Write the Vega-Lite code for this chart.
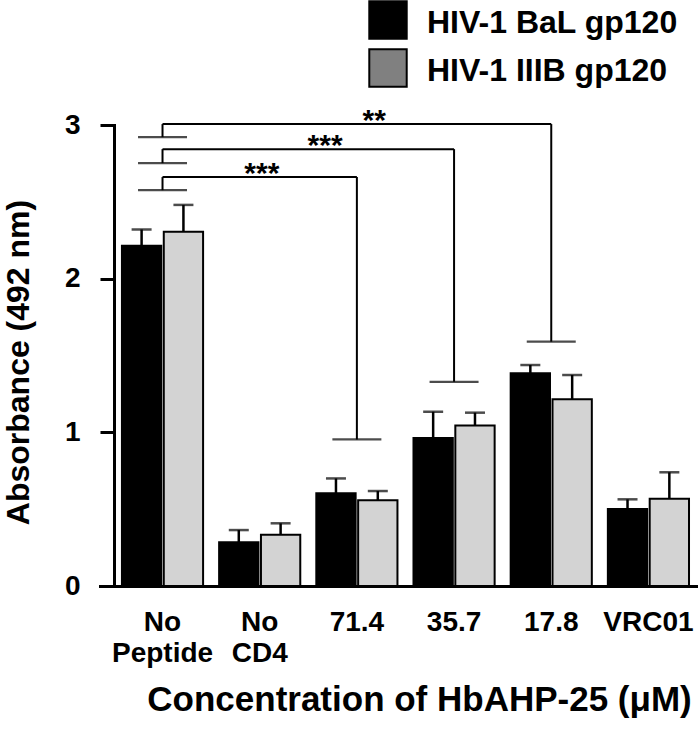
{
  "$schema": "https://vega.github.io/schema/vega-lite/v6.json",
  "width": 597,
  "height": 461,
  "autosize": "none",
  "padding": {"left": 100, "top": 125, "right": 1, "bottom": 149},
  "background": "white",
  "config": {
    "view": {"stroke": null},
    "font": "Liberation Sans",
    "axis": {"grid": false}
  },
  "resolve": {"scale": {"fill": "independent"}},
  "datasets": {
    "bars": [
      {"group": "No Peptide", "series": "HIV-1 BaL gp120", "mean": 2.214, "upper": 2.32},
      {"group": "No Peptide", "series": "HIV-1 IIIB gp120", "mean": 2.305, "upper": 2.48},
      {"group": "No CD4", "series": "HIV-1 BaL gp120", "mean": 0.284, "upper": 0.364},
      {"group": "No CD4", "series": "HIV-1 IIIB gp120", "mean": 0.334, "upper": 0.408},
      {"group": "71.4", "series": "HIV-1 BaL gp120", "mean": 0.603, "upper": 0.70},
      {"group": "71.4", "series": "HIV-1 IIIB gp120", "mean": 0.558, "upper": 0.618},
      {"group": "35.7", "series": "HIV-1 BaL gp120", "mean": 0.963, "upper": 1.134},
      {"group": "35.7", "series": "HIV-1 IIIB gp120", "mean": 1.045, "upper": 1.128},
      {"group": "17.8", "series": "HIV-1 BaL gp120", "mean": 1.384, "upper": 1.438},
      {"group": "17.8", "series": "HIV-1 IIIB gp120", "mean": 1.215, "upper": 1.373},
      {"group": "VRC01", "series": "HIV-1 BaL gp120", "mean": 0.501, "upper": 0.564},
      {"group": "VRC01", "series": "HIV-1 IIIB gp120", "mean": 0.568, "upper": 0.74}
    ],
    "brackets": [
      {"origin": "No Peptide", "target": "71.4", "left": 2.576, "level": 2.661, "cap": 0.954, "stars": "***"},
      {"origin": "No Peptide", "target": "35.7", "left": 2.752, "level": 2.843, "cap": 1.329, "stars": "***"},
      {"origin": "No Peptide", "target": "17.8", "left": 2.921, "level": 3.006, "cap": 1.59, "stars": "**"}
    ]
  },
  "layer": [
    {
      "data": {"name": "bars"},
      "mark": {"type": "bar", "stroke": "black", "strokeWidth": 2},
      "encoding": {
        "x": {
          "field": "group", "type": "nominal", "sort": null,
          "scale": {"domain": ["No Peptide", "No CD4", "71.4", "35.7", "17.8", "VRC01"], "paddingInner": 0.165, "paddingOuter": 0.154, "align": 0.733},
          "axis": {
            "ticks": false, "domainWidth": 3, "domainColor": "black", "domainCap": "square",
            "labelAngle": 0, "labelFont": "Liberation Sans", "labelFontSize": 28, "labelFontWeight": "bold", "labelColor": "black",
            "labelPadding": 22, "labelLineHeight": 31, "labelBaseline": "top",
            "labelExpr": "datum.label == 'No Peptide' ? ['No', 'Peptide'] : datum.label == 'No CD4' ? ['No', 'CD4'] : datum.label",
            "title": "Concentration of HbAHP-25 (μM)", "titleFont": "Liberation Sans", "titleFontSize": 35, "titleFontWeight": "bold", "titleColor": "black",
            "titleX": 319, "titleY": 96, "titleBaseline": "top", "titleAlign": "center", "titleAnchor": null
          }
        },
        "xOffset": {"field": "series", "type": "nominal", "scale": {"paddingInner": 0.06, "paddingOuter": 0}},
        "y": {
          "field": "mean", "type": "quantitative",
          "scale": {"domain": [0, 3], "nice": false, "zero": true},
          "axis": {
            "values": [0, 1, 2, 3], "format": "d", "offset": -14, "tickSize": 14, "tickWidth": 3, "tickColor": "black",
            "domainWidth": 3, "domainColor": "black", "domainCap": "square",
            "labelFont": "Liberation Sans", "labelFontSize": 28, "labelFontWeight": "bold", "labelColor": "black",
            "labelPadding": 20, "labelFlush": false, "labelOverlap": false,
            "title": "Absorbance (492 nm)", "titleFont": "Liberation Sans", "titleFontSize": 32, "titleFontWeight": "bold", "titleColor": "black",
            "titleX": -79, "titleY": 237, "titleAngle": -90, "titleBaseline": "bottom", "titleAlign": "center", "titleAnchor": null
          }
        },
        "fill": {
          "field": "series", "type": "nominal",
          "scale": {"domain": ["HIV-1 BaL gp120", "HIV-1 IIIB gp120"], "range": ["#000000", "#d3d3d3"]},
          "legend": null
        }
      }
    },
    {
      "data": {"name": "bars"},
      "transform": [{"filter": "datum.mean < 0"}],
      "mark": {"type": "bar", "stroke": "black", "strokeWidth": 2},
      "encoding": {
        "x": {"field": "group", "type": "nominal", "sort": null},
        "y": {"field": "mean", "type": "quantitative"},
        "fill": {
          "field": "series", "type": "nominal",
          "scale": {"domain": ["HIV-1 BaL gp120", "HIV-1 IIIB gp120"], "range": ["#000000", "#808080"]},
          "legend": {
            "orient": "none", "legendX": 268, "legendY": -125, "title": null,
            "symbolType": "square", "symbolSize": 1400, "symbolStrokeWidth": 2, "symbolStrokeColor": "black", "symbolOpacity": 1,
            "labelFont": "Liberation Sans", "labelFontSize": 32, "labelFontWeight": "bold", "labelColor": "black", "labelLimit": 500,
            "labelOffset": 19, "rowPadding": 2, "padding": 0,
            "encode": {"labels": {"update": {"dy": {"value": 3}}}}
          }
        }
      }
    },
    {
      "data": {"name": "bars"},
      "mark": {"type": "rule", "color": "black", "strokeWidth": 2.5},
      "encoding": {
        "x": {"field": "group", "type": "nominal", "sort": null},
        "xOffset": {"field": "series", "type": "nominal"},
        "y": {"field": "mean", "type": "quantitative"},
        "y2": {"field": "upper"}
      }
    },
    {
      "data": {"name": "bars"},
      "mark": {"type": "tick", "orient": "horizontal", "color": "black", "size": 20, "thickness": 2.5},
      "encoding": {
        "x": {"field": "group", "type": "nominal", "sort": null},
        "xOffset": {"field": "series", "type": "nominal"},
        "y": {"field": "upper", "type": "quantitative"}
      }
    },
    {
      "data": {"name": "brackets"},
      "mark": {"type": "tick", "orient": "horizontal", "color": "black", "size": 49, "thickness": 2.2},
      "encoding": {
        "x": {"field": "origin", "type": "nominal", "sort": null},
        "y": {"field": "left", "type": "quantitative"}
      }
    },
    {
      "data": {"name": "brackets"},
      "mark": {"type": "rule", "color": "black", "strokeWidth": 2},
      "encoding": {
        "x": {"field": "origin", "type": "nominal", "sort": null},
        "y": {"field": "left", "type": "quantitative"},
        "y2": {"field": "level"}
      }
    },
    {
      "data": {"name": "brackets"},
      "mark": {"type": "rule", "color": "black", "strokeWidth": 2},
      "encoding": {
        "x": {"field": "origin", "type": "nominal", "sort": null},
        "x2": {"field": "target"},
        "y": {"field": "level", "type": "quantitative"}
      }
    },
    {
      "data": {"name": "brackets"},
      "mark": {"type": "rule", "color": "black", "strokeWidth": 2},
      "encoding": {
        "x": {"field": "target", "type": "nominal", "sort": null},
        "y": {"field": "level", "type": "quantitative"},
        "y2": {"field": "cap"}
      }
    },
    {
      "data": {"name": "brackets"},
      "mark": {"type": "tick", "orient": "horizontal", "color": "black", "size": 49, "thickness": 2.2},
      "encoding": {
        "x": {"field": "target", "type": "nominal", "sort": null},
        "y": {"field": "cap", "type": "quantitative"}
      }
    },
    {
      "data": {"name": "brackets"},
      "transform": [{"filter": "datum.target == '71.4'"}],
      "mark": {"type": "text", "fontSize": 30, "fontWeight": "bold", "font": "Liberation Sans", "color": "black", "baseline": "alphabetic", "align": "center", "dx": -95, "dy": 6},
      "encoding": {
        "x": {"field": "target", "type": "nominal", "sort": null},
        "y": {"field": "level", "type": "quantitative"},
        "text": {"field": "stars"}
      }
    },
    {
      "data": {"name": "brackets"},
      "transform": [{"filter": "datum.target == '35.7'"}],
      "mark": {"type": "text", "fontSize": 30, "fontWeight": "bold", "font": "Liberation Sans", "color": "black", "baseline": "alphabetic", "align": "center", "dx": -129, "dy": 6},
      "encoding": {
        "x": {"field": "target", "type": "nominal", "sort": null},
        "y": {"field": "level", "type": "quantitative"},
        "text": {"field": "stars"}
      }
    },
    {
      "data": {"name": "brackets"},
      "transform": [{"filter": "datum.target == '17.8'"}],
      "mark": {"type": "text", "fontSize": 30, "fontWeight": "bold", "font": "Liberation Sans", "color": "black", "baseline": "alphabetic", "align": "center", "dx": -177, "dy": 6},
      "encoding": {
        "x": {"field": "target", "type": "nominal", "sort": null},
        "y": {"field": "level", "type": "quantitative"},
        "text": {"field": "stars"}
      }
    }
  ]
}
